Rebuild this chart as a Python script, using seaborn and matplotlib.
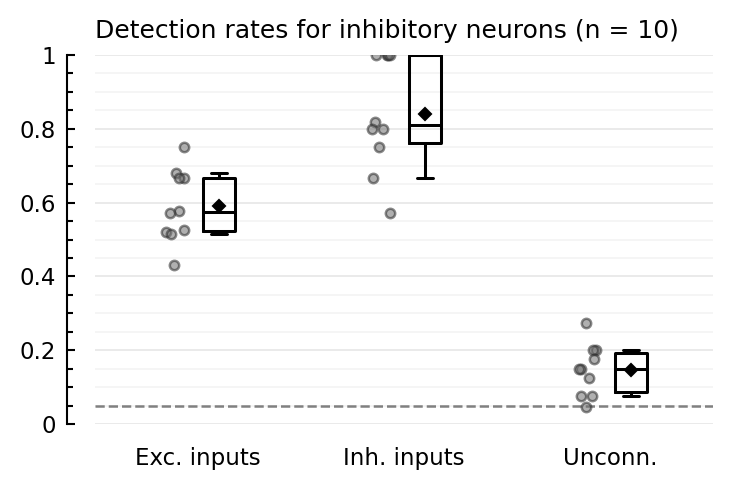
import numpy as np
import pandas as pd
import matplotlib
matplotlib.use("Agg")
import matplotlib.pyplot as plt
import seaborn as sns
from matplotlib.ticker import MultipleLocator, FuncFormatter

categories = ["Exc. inputs", "Inh. inputs", "Unconn."]
exc_rates = [0.75, 0.68, 0.667, 0.667, 0.577, 0.571, 0.527, 0.52, 0.515, 0.43]
inh_rates = [1.0, 1.0, 1.0, 1.0, 0.818, 0.8, 0.8, 0.75, 0.667, 0.571]
unconn_rates = [0.273, 0.2, 0.2, 0.175, 0.15, 0.15, 0.125, 0.075, 0.075, 0.045]
chance_level = 0.05
title = "Detection rates for inhibitory neurons (n = 10)"
yticks = [0, 0.2, 0.4, 0.6, 0.8, 1.0]

sns.set_style("white")
plt.rcParams["font.family"] = ["DejaVu Sans"]
plt.rcParams["text.color"] = "black"
plt.rcParams["xtick.color"] = "black"
plt.rcParams["ytick.color"] = "black"

rows = []
for i, (c, vals) in enumerate(zip(categories, [exc_rates, inh_rates, unconn_rates])):
    for v in vals:
        rows.append({"category": c, "idx": i, "rate": v})
df = pd.DataFrame(rows)
df["strip_x"] = df["idx"] - 0.11
df["box_x"] = df["idx"] + 0.1

fig = plt.figure(figsize=(734 / 150, 491 / 150), dpi=150)
ax = fig.add_axes([95 / 734, 1 - 424 / 491, (713 - 95) / 734, (424 - 55) / 491])

np.random.seed(4)
sns.stripplot(data=df, x="strip_x", y="rate", native_scale=True, orient="x",
              jitter=0.045, color="#707070", edgecolor="#2a2a2a", linewidth=1.2,
              alpha=0.55, size=4.5, ax=ax, zorder=3)

sns.boxplot(data=df, x="box_x", y="rate", native_scale=True, orient="x",
            width=0.155, whis=[10, 90], showfliers=False, showmeans=True,
            fill=False, color="black", linecolor="black", linewidth=1.45,
            meanprops=dict(marker="D", markerfacecolor="black",
                           markeredgecolor="black", markersize=3.8),
            ax=ax, zorder=3)

ax.axhline(chance_level, color="#808080", linestyle="--", linewidth=1.2, zorder=2)

ax.set_xlim(-0.5, 2.5)
ax.set_ylim(0, 1)
ax.set_xticks(range(len(categories)))
ax.set_xticklabels(categories, fontsize=11)
ax.set_yticks(yticks)
ax.yaxis.set_minor_locator(MultipleLocator(0.05))
ax.yaxis.set_major_formatter(FuncFormatter(lambda v, p: f"{v:g}"))
ax.tick_params(axis="y", which="major", direction="in", length=3.8, width=1.0,
               pad=5.5, labelsize=11, left=True, color="black", labelcolor="black")
ax.tick_params(axis="y", which="minor", direction="in", length=2.9, width=1.0,
               left=True, color="black")
ax.tick_params(axis="x", length=0, pad=11, labelsize=11, labelcolor="black")

ax.grid(True, which="major", axis="y", color="#e6e6e6", linewidth=0.8, zorder=0)
ax.grid(True, which="minor", axis="y", color="#f3f3f3", linewidth=0.8, zorder=0)
ax.set_axisbelow(True)

for s in ["top", "right", "bottom"]:
    ax.spines[s].set_visible(False)
ax.spines["left"].set_position(("outward", 13.4))
ax.spines["left"].set_color("black")
ax.spines["left"].set_linewidth(1.0)

ax.set_xlabel("")
ax.set_ylabel("")
ax.set_title(title, loc="left", fontsize=12, pad=8, color="black")

fig.savefig("out.png", dpi=150)
